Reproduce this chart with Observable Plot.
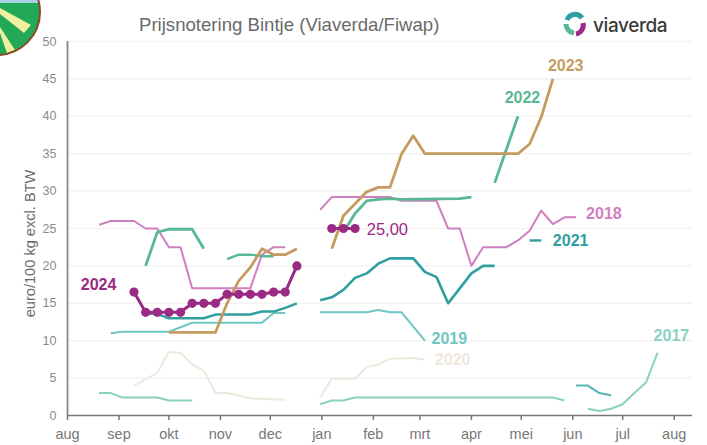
<!DOCTYPE html>
<html>
<head>
<meta charset="utf-8">
<script src="https://cdn.jsdelivr.net/npm/d3@7"></script>
<script src="https://cdn.jsdelivr.net/npm/@observablehq/plot@0.6"></script>
<style>
html,body{margin:0;padding:0;background:#fff;width:707px;height:445px;overflow:hidden}
#wrap{position:relative;width:707px;height:445px;font-family:"Liberation Sans",Arial,sans-serif}
#title{position:absolute;left:139px;top:14px;font-size:18.6px;color:#6a6a6a;white-space:nowrap}
#brand{position:absolute;left:593px;top:14px;font:500 19px "Inter","Liberation Sans",sans-serif;color:#3a3a3a;letter-spacing:-0.4px}
svg.deco{position:absolute;left:0;top:0;overflow:visible}
#chart{position:absolute;left:0;top:0}
</style>
</head>
<body>
<div id="wrap">
  <div id="chart"></div>
  <svg class="deco" width="707" height="60">
    <defs><clipPath id="badge"><circle cx="-3" cy="12" r="43"/></clipPath></defs>
    <g clip-path="url(#badge)">
      <rect x="-50" y="-40" width="100" height="110" fill="#22a958"/>
      <rect x="-50" y="-40" width="100" height="43" fill="#a8d0e2"/>
      <polygon points="0,8 0,14 24,33 31,25" fill="#f1efa0"/>
      <polygon points="0,27 0,33 7,53 15,50" fill="#f1efa0"/>
    </g>
    <circle cx="-3" cy="12" r="43" fill="none" stroke="#8a4a22" stroke-width="2"/>
    <path d="M567,20 A8.5,8.5 0 0 1 582,18" fill="none" stroke="#2f9ea0" stroke-width="5"/>
    <path d="M566,24 A9,9 0 0 0 574,33" fill="none" stroke="#58b893" stroke-width="5"/>
    <path d="M583,23 A9,9 0 0 1 576,34" fill="none" stroke="#9b2a85" stroke-width="5"/>
  </svg>
  <div id="title">Prijsnotering Bintje (Viaverda/Fiwap)</div>
  <div id="brand">viaverda</div>
</div>
<script>
const monthDays = [0,31,61,92,122,153,184,212,243,273,304,334,365];
const monthNames = ["aug","sep","okt","nov","dec","jan","feb","mrt","apr","mei","jun","jul","aug"];
const yTicks = [0,5,10,15,20,25,30,35,40,45,50];

// [week number since the first 2024 quotation, euro/100 kg]
const s2024a = [[0,16.5],[1,13.8],[2,13.8],[3,13.8],[4,13.8],[5,15],[6,15],[7,15],[8,16.2],[9,16.2],[10,16.2],[11,16.2],[12,16.5],[13,16.5],[14,20]];
const s2024b = [[17,25],[18,25],[19,25]];
const s2023a = [[3,11.1],[7,11.1],[8,15],[9,18],[10,19.8],[11,22.3],[12,21.5],[13,21.5],[14,22.3]];
const s2023b = [[17,22.3],[18,26.7],[19,28.3],[20,29.9],[21,30.5],[22,30.5],[23,35],[24,37.4],[25,35],[33,35],[34,36.3],[35,39.9],[36,45]];
const s2022a = [[1,20],[2,24.5],[3,24.9],[5,24.9],[6,22.3]];
const s2022b = [[8,20.9],[9,21.5],[10,21.5],[11,21.3],[12,21.3]];
const s2022c = [[18,24.5],[19,27],[20,28.7],[21,28.9],[22,29],[23,28.9],[28,29],[29,29.2]];
const s2022d = [[31,31.1],[33,40]];
const s2021a = [[1,13.6],[2,13.6],[3,13],[6,13],[7,13.5],[10,13.5],[11,13.9],[12,13.9],[13,14.4],[14,15]];
const s2021b = [[16,15.4],[17,15.8],[18,16.8],[19,18.4],[20,19],[21,20.3],[22,21],[24,21],[25,19.2],[26,18.5],[27,15],[28,17],[29,19],[30,20],[31,20]];
const s2021c = [[34,23.4],[35,23.4]];
const s2020a = [[0,4],[2,5.7],[3,8.5],[4,8.4],[5,6.8],[6,6],[7,3],[8,3],[10,2.3],[13,2.1]];
const s2020b = [[16,2.4],[17,4.9],[19,4.9],[20,6.5],[21,6.8],[22,7.6],[24,7.7],[25,7.5]];
const s2019a = [[-2,11],[-1,11.2],[3,11.2],[5,12.4],[11,12.4],[12,13.7],[13,13.7]];
const s2019b = [[16,13.8],[20,13.8],[21,14.1],[22,13.8],[23,13.8],[25,10]];
const s2019c = [[38,4],[39,4],[40,3],[41,2.7]];
const s2018a = [[-3,25.5],[-2,26],[0,26],[1,25],[2,25],[3,22.5],[4,22.5],[5,17],[10,17],[11,21.5],[12,22.5],[13,22.5]];
const s2018b = [[16,27.5],[17,29.2],[22,29.2],[23,28.7],[26,28.7],[27,25],[28,25],[29,20],[30,22.5],[32,22.5],[33,23.4],[34,24.7],[35,27.4],[36,25.6],[37,26.5],[38,26.5]];
const s2017a = [[-3,3],[-2,3],[-1,2.4],[2,2.4],[3,2],[5,2]];
const s2017b = [[16,1.5],[17,2],[18,2],[19,2.4],[36,2.4],[37,2]];
const s2017c = [[39,0.9],[40,0.6],[41,0.9],[42,1.5],[43,3],[44,4.4],[45,8.4]];

const c2024="#9b2a85", c2023="#c49b60", c2022="#58b893", c2021="#2f9ea0",
      c2020="#efe8dc", c2019="#6fc6c4", c2018="#cf7fbd", c2017="#8ad2c0";

const yearLabels = ["2024","2023","2022","2021","2020","2019","2018","2017"];
const yearLabelDay = [8,289,263,292,221,219,312,352.6];
const yearLabelVal = [17.5,46.7,42.5,23.3,7.5,10.3,27,10.6];
const yearLabelCol = [c2024,c2023,c2022,c2021,c2020,c2019,c2018,c2017];
const lastQuote = ["25,00"];
const lastQuoteDay = [180];
const lastQuoteVal = [24.9];

const day = w => 40 + 7*w[0];
const val = w => w[1];
const seg = (data, stroke, strokeWidth) => Plot.line(data, {x:day, y:val, stroke, strokeWidth, curve:"linear", strokeLinejoin:"round", strokeLinecap:"butt"});

const chart = Plot.plot({
  width:707, height:445,
  marginTop:41, marginBottom:30, marginLeft:67, marginRight:15,
  style:{background:"transparent", fontFamily:"'Liberation Sans',Arial,sans-serif"},
  x:{domain:[0,376], axis:null},
  y:{domain:[0,50], axis:null},
  marks:[
    Plot.gridY(yTicks.slice(1), {y:d=>d, stroke:"#f3f3f3", strokeOpacity:1, strokeWidth:1.5}),
    Plot.axisX(monthDays, {x:d=>d, anchor:"bottom", tickSize:5, tickPadding:8, fontSize:14.5,
      tickFormat:(d,i)=>monthNames[i], color:"#777", stroke:"#777", fill:"#777", label:null, strokeWidth:1.5}),
    Plot.axisY(yTicks, {y:d=>d, anchor:"left", tickSize:0, tickPadding:11, fontSize:12.5, fill:"#8a8a8a", label:null}),
    Plot.ruleY([0], {stroke:"#777", strokeWidth:1.5}),
    Plot.ruleX([0], {stroke:"#888", strokeWidth:1.8}),
    Plot.text(["euro/100 kg excl. BTW"], {frameAnchor:"left", y:()=>23, dx:-37, rotate:-90, textAnchor:"middle", fontSize:14.6, fill:"#6a6a6a", text:d=>d}),

    seg(s2020a,c2020,2), seg(s2020b,c2020,2),
    seg(s2017a,c2017,2), seg(s2017b,c2017,2), seg(s2017c,c2017,2),
    seg(s2019a,c2019,2), seg(s2019b,c2019,2), seg(s2019c,"#55b5b5",2),
    seg(s2018a,c2018,2), seg(s2018b,c2018,2),
    seg(s2021a,c2021,2.4), seg(s2021b,c2021,2.6), seg(s2021c,c2021,2.4),
    seg(s2022a,c2022,2.8), seg(s2022b,c2022,2.4), seg(s2022c,c2022,2.8), seg(s2022d,c2022,2.8),
    seg(s2023a,c2023,2.8), seg(s2023b,c2023,2.8),
    seg(s2024a,c2024,3), seg(s2024b,c2024,3),
    Plot.dot(s2024a.concat(s2024b), {x:day, y:val, r:4.6, fill:c2024}),

    Plot.text(yearLabels, {
      x:(d,i)=>yearLabelDay[i], y:(d,i)=>yearLabelVal[i], text:d=>d,
      textAnchor:"start", fontSize:16, fontWeight:"bold", fill:(d,i)=>yearLabelCol[i]
    }),
    Plot.text(lastQuote, {
      x:(d,i)=>lastQuoteDay[i], y:(d,i)=>lastQuoteVal[i], text:d=>d,
      textAnchor:"start", fontSize:16.5, fontWeight:500, fill:c2024
    })
  ]
});
document.getElementById("chart").appendChild(chart);
</script>
</body>
</html>
